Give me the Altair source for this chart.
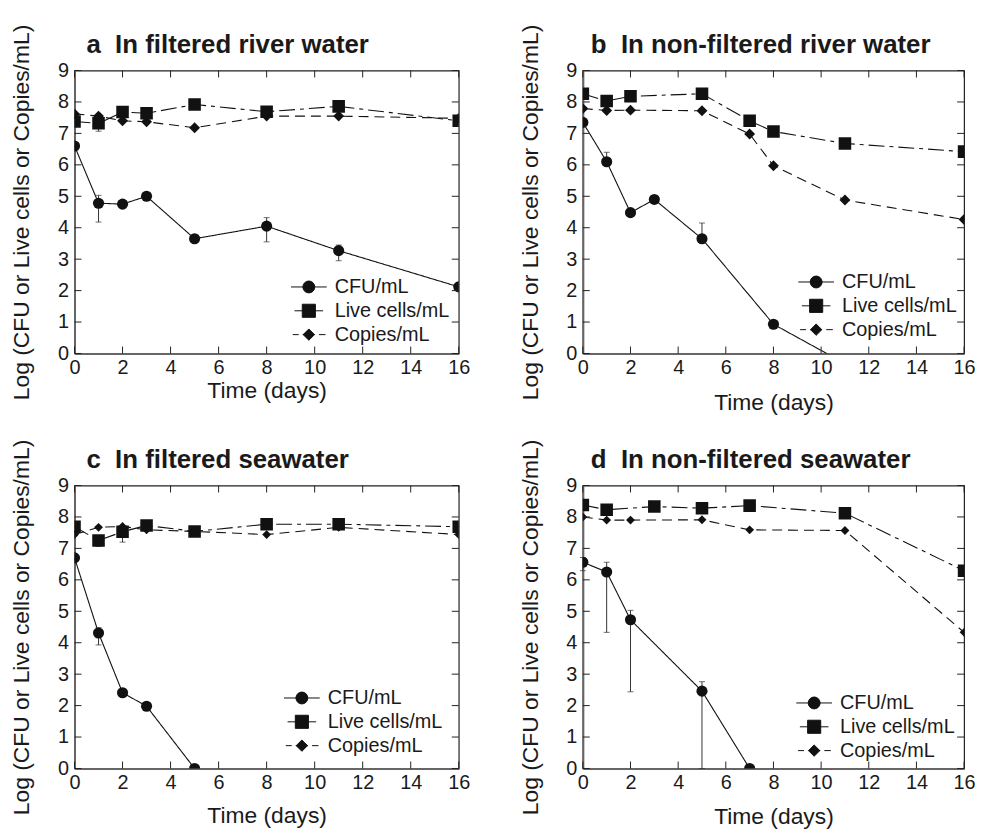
import altair as alt
import pandas as pd

SERIES = ["CFU/mL", "Live cells/mL", "Copies/mL"]
X_TICKS = [0, 2, 4, 6, 8, 10, 12, 14, 16]
Y_TICKS = [0, 1, 2, 3, 4, 5, 6, 7, 8, 9]
Y_TITLE = "Log (CFU or Live cells or Copies/mL)"
X_TITLE = "Time (days)"

# ---- panel a: filtered river water
A_TITLE = "a\u00a0\u00a0In filtered river water"
A_CFU_DAYS = [0, 1, 2, 3, 5, 8, 11, 16]
A_CFU = [6.60, 4.78, 4.75, 5.00, 3.65, 4.05, 3.27, 2.12]
A_LIVE_DAYS = [0, 1, 2, 3, 5, 8, 11, 16]
A_LIVE = [7.38, 7.32, 7.68, 7.64, 7.92, 7.69, 7.86, 7.40]
A_COP_DAYS = [0, 1, 2, 3, 5, 8, 11, 16]
A_COP = [7.62, 7.55, 7.40, 7.37, 7.18, 7.55, 7.55, 7.48]
A_ERR_DAYS = [1, 8, 11, 1]
A_ERR_LO = [4.18, 3.55, 2.95, 7.07]
A_ERR_HI = [5.03, 4.32, 3.45, 7.32]

# ---- panel b: non-filtered river water
B_TITLE = "b\u00a0\u00a0In non-filtered river water"
B_CFU_DAYS = [0, 1, 2, 3, 5, 8, 11]
B_CFU = [7.35, 6.10, 4.48, 4.90, 3.65, 0.93, -0.32]
B_LIVE_DAYS = [0, 1, 2, 5, 7, 8, 11, 16]
B_LIVE = [8.26, 8.03, 8.18, 8.26, 7.40, 7.06, 6.68, 6.42]
B_COP_DAYS = [0, 1, 2, 5, 7, 8, 11, 16]
B_COP = [7.79, 7.73, 7.74, 7.72, 6.98, 5.97, 4.88, 4.26]
B_ERR_DAYS = [1, 5, 5]
B_ERR_LO = [6.10, 3.65, 8.26]
B_ERR_HI = [6.40, 4.15, 8.36]

# ---- panel c: filtered seawater
C_TITLE = "c\u00a0\u00a0In filtered seawater"
C_CFU_DAYS = [0, 1, 2, 3, 5]
C_CFU = [6.70, 4.31, 2.41, 1.98, 0.00]
C_LIVE_DAYS = [0, 1, 2, 3, 5, 8, 11, 16]
C_LIVE = [7.69, 7.25, 7.53, 7.73, 7.54, 7.77, 7.77, 7.69]
C_COP_DAYS = [0, 1, 2, 3, 5, 8, 11, 16]
C_COP = [7.44, 7.67, 7.70, 7.59, 7.54, 7.44, 7.67, 7.44]
C_ERR_DAYS = [1, 1, 2]
C_ERR_LO = [3.93, 7.06, 7.20]
C_ERR_HI = [4.48, 7.25, 7.53]

# ---- panel d: non-filtered seawater
D_TITLE = "d\u00a0\u00a0In non-filtered seawater"
D_CFU_DAYS = [0, 1, 2, 5, 7]
D_CFU = [6.56, 6.25, 4.73, 2.46, 0.00]
D_LIVE_DAYS = [0, 1, 3, 5, 7, 11, 16]
D_LIVE = [8.38, 8.23, 8.33, 8.28, 8.36, 8.12, 6.29]
D_COP_DAYS = [0, 1, 2, 5, 7, 11, 16]
D_COP = [8.00, 7.90, 7.90, 7.91, 7.59, 7.57, 4.33]
D_ERR_DAYS = [0, 1, 2, 5]
D_ERR_LO = [6.29, 4.33, 2.44, 0.00]
D_ERR_HI = [6.71, 6.56, 5.03, 2.76]

FONT = "Liberation Sans"
INK = "#111111"
H = 285
TICK = 7

DASH = {"CFU/mL": [1, 0], "Live cells/mL": [16, 5, 4, 5], "Copies/mL": [10, 6]}
SHAPE = {"CFU/mL": ("circle", 125), "Live cells/mL": ("square", 160), "Copies/mL": ("diamond", 120)}
LEGEND_PATHS = [
    "M-3,0H3M1,0A1,1 0 1,1 -1,0A1,1 0 1,1 1,0Z",
    "M-2.4,0H2.4M-1.1,-1.1H1.1V1.1H-1.1Z",
    "M-2.7,0H-1.7M-1,0H1M1.7,0H2.8M0,-0.95L0.95,0L0,0.95L-0.95,0Z",
]


def panel(title, cfu, live, cop, err, legend_xy, xpad, dsize, W, dx):
    rows = []
    for s, (days, vals) in zip(SERIES, [cfu, live, cop]):
        for d, v in zip(days, vals):
            rows.append({"series": s, "day": d, "val": v})
    df = pd.DataFrame(rows)
    edf = pd.DataFrame({"day": err[0], "lo": err[1], "hi": err[2]})

    xs = alt.Scale(domain=[0, 16], nice=False)
    ys = alt.Scale(domain=[0, 9], nice=False)
    xax = alt.Axis(values=X_TICKS, title=X_TITLE, titlePadding=xpad)
    yax = alt.Axis(values=Y_TICKS, title=Y_TITLE)

    def X(f):
        return alt.X(f, scale=xs, axis=xax)

    def Y(f):
        return alt.Y(f, scale=ys, axis=yax)

    base = alt.Chart(df)
    layers = []
    for s in SERIES:
        layers.append(
            base.transform_filter(alt.datum.series == s)
            .mark_line(color=INK, strokeWidth=1.1, strokeDash=DASH[s], clip=True)
            .encode(x=X("day:Q"), y=Y("val:Q"), order="day:Q")
        )

    eb = alt.Chart(edf)
    layers.append(eb.mark_rule(color="#333", strokeWidth=1).encode(
        x=X("day:Q"), y=Y("lo:Q"), y2="hi:Q"))
    for f in ["lo", "hi"]:
        layers.append(eb.mark_tick(orient="horizontal", size=6, thickness=1, color="#333").encode(
            x=X("day:Q"), y=Y(f + ":Q")))

    for s in SERIES:
        shp, size = SHAPE[s]
        if s == "Copies/mL":
            size = dsize
        layers.append(
            base.transform_filter(alt.datum.series == s)
            .mark_point(shape=shp, size=size, filled=True, color=INK, opacity=1, clip=True)
            .encode(x=X("day:Q"), y=Y("val:Q"))
        )

    tx = alt.Chart(pd.DataFrame({"t": X_TICKS}))
    ty = alt.Chart(pd.DataFrame({"t": Y_TICKS}))
    layers.append(tx.mark_rule(color="#222").encode(x=X("t:Q"), y=alt.value(0), y2=alt.value(TICK)))
    layers.append(tx.mark_rule(color="#222").encode(x=X("t:Q"), y=alt.value(H), y2=alt.value(H - TICK)))
    layers.append(ty.mark_rule(color="#222").encode(y=Y("t:Q"), x=alt.value(0), x2=alt.value(TICK)))
    layers.append(ty.mark_rule(color="#222").encode(y=Y("t:Q"), x=alt.value(W), x2=alt.value(W - TICK)))

    layers.append(
        base.transform_filter("false")
        .mark_point(filled=False, fill=INK, stroke=INK, strokeWidth=1, opacity=1)
        .encode(
            x=X("day:Q"), y=Y("val:Q"),
            shape=alt.Shape(
                "series:N",
                scale=alt.Scale(domain=SERIES, range=LEGEND_PATHS),
                legend=alt.Legend(
                    title=None, orient="none", legendX=legend_xy[0], legendY=legend_xy[1],
                    padding=0, labelFont=FONT, labelFontSize=20, labelColor="#1a1a1a",
                    labelLimit=400, labelOffset=16, rowPadding=4, symbolSize=144,
                    symbolStrokeWidth=1,
                ),
            ),
        )
    )

    return alt.layer(*layers).properties(
        width=W, height=H,
        title=alt.TitleParams(title, anchor="start", frame="group", dx=dx, offset=-34,
                              fontSize=26, fontWeight="bold", font=FONT, color="#1a1a1a"),
    )


pa = panel(A_TITLE, (A_CFU_DAYS, A_CFU), (A_LIVE_DAYS, A_LIVE), (A_COP_DAYS, A_COP),
           (A_ERR_DAYS, A_ERR_LO, A_ERR_HI), (226, 208), 2, 120, 387, 12)
pb = panel(B_TITLE, (B_CFU_DAYS, B_CFU), (B_LIVE_DAYS, B_LIVE), (B_COP_DAYS, B_COP),
           (B_ERR_DAYS, B_ERR_LO, B_ERR_HI), (225, 203), 14, 120, 384, 8)
pc = panel(C_TITLE, (C_CFU_DAYS, C_CFU), (C_LIVE_DAYS, C_LIVE), (C_COP_DAYS, C_COP),
           (C_ERR_DAYS, C_ERR_LO, C_ERR_HI), (219, 204), 12, 80, 387, 12)
pd_ = panel(D_TITLE, (D_CFU_DAYS, D_CFU), (D_LIVE_DAYS, D_LIVE), (D_COP_DAYS, D_COP),
            (D_ERR_DAYS, D_ERR_LO, D_ERR_HI), (223, 209), 13, 80, 384, 8)

row1 = alt.hconcat(pa, pb, spacing=48).resolve_scale(shape="independent").resolve_legend(shape="independent")
row2 = alt.hconcat(pc, pd_, spacing=48).resolve_scale(shape="independent").resolve_legend(shape="independent")

chart = alt.vconcat(row1, row2, spacing=23).resolve_scale(
    shape="independent"
).resolve_legend(shape="independent").properties(
    padding={"left": 2, "top": 12, "right": 0, "bottom": 0}
).configure(font=FONT).configure_view(
    stroke="#222", strokeWidth=1.2
).configure_axis(
    labelFont=FONT, labelFontSize=20, labelColor="#1a1a1a",
    titleFont=FONT, titleFontSize=23, titleFontWeight="normal", titleColor="#1a1a1a",
    ticks=False, grid=False, domainColor="#666", domainWidth=2,
).configure_axisY(titlePadding=24, labelPadding=6).configure_axisX(labelFlush=False, labelPadding=4)

chart.save("out.html", embed_options={"renderer": "svg", "actions": False})
